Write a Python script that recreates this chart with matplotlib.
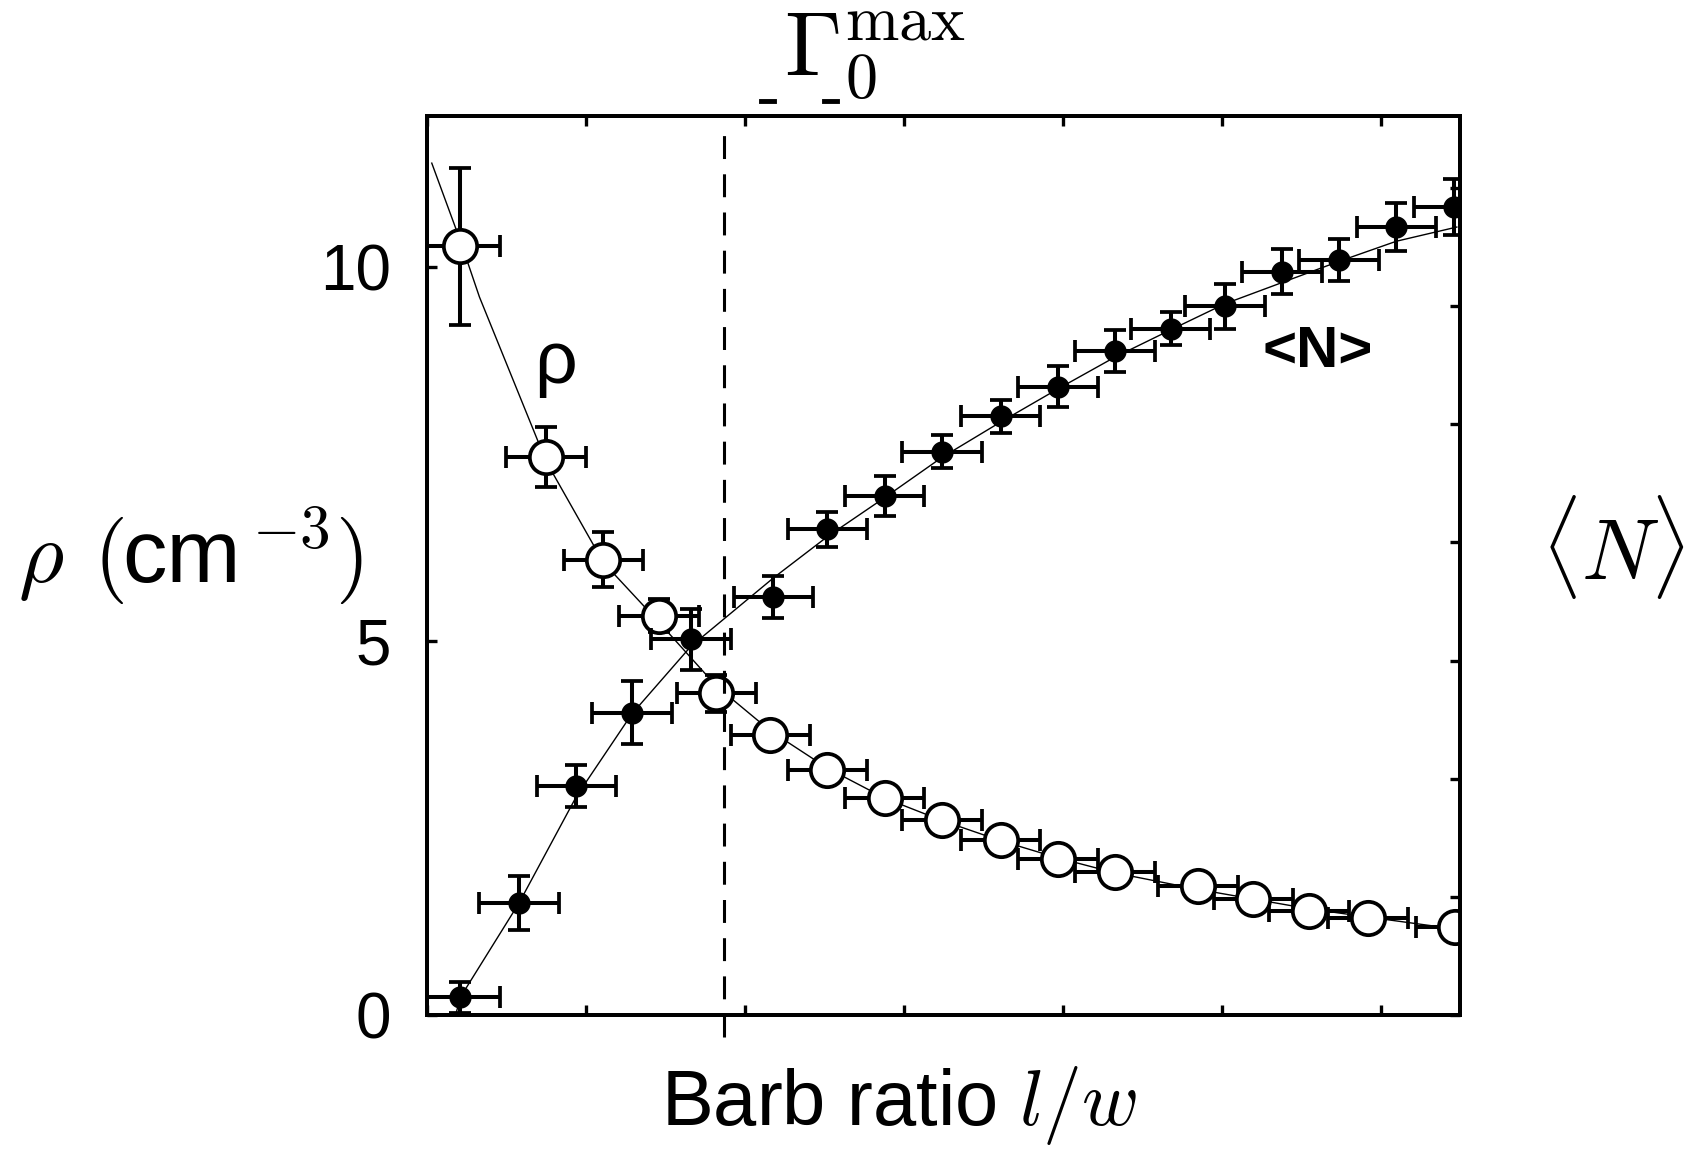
import matplotlib
matplotlib.use("Agg")
import matplotlib.pyplot as plt
from matplotlib.lines import Line2D

plt.rcParams['font.family'] = ['Liberation Sans', 'DejaVu Sans']
plt.rcParams['mathtext.fontset'] = 'cm'

# density rho (open circles, left axis)
rho_x = [0.21, 0.75, 1.11, 1.46, 1.82, 2.16, 2.52, 2.88, 3.24, 3.61, 3.97, 4.33,
         4.85, 5.20, 5.55, 5.92, 6.47]
rho_y = [10.28, 7.46, 6.09, 5.34, 4.30, 3.74, 3.28, 2.90, 2.61, 2.34, 2.09, 1.91,
         1.72, 1.55, 1.39, 1.30, 1.17]
rho_err = [1.05, 0.40, 0.37, 0.22, 0.25, 0.12, 0.10, 0.10, 0.10, 0.10, 0.10, 0.10,
           0.06, 0.06, 0.06, 0.06, 0.06]

# mean number <N> (filled circles, right axis)
n_x = [0.21, 0.58, 0.94, 1.29, 1.66, 2.18, 2.52, 2.88, 3.24, 3.61, 3.97, 4.33,
       4.68, 5.02, 5.38, 5.74, 6.10, 6.46]
n_y = [0.15, 0.95, 1.94, 2.56, 3.18, 3.54, 4.11, 4.39, 4.77, 5.07, 5.32, 5.62,
       5.81, 6.00, 6.29, 6.39, 6.67, 6.84]
n_err = [0.13, 0.23, 0.18, 0.27, 0.26, 0.18, 0.15, 0.17, 0.14, 0.14, 0.17, 0.18,
         0.14, 0.19, 0.19, 0.18, 0.20, 0.24]
x_err = 0.25

# fitted curves
rho_fit_x = [0.03, 0.21, 0.33, 0.67, 0.75, 1.11, 1.46, 1.82, 2.16, 2.52, 2.88, 3.24,
             3.61, 3.97, 4.33, 4.85, 5.20, 5.55, 5.92, 6.47]
rho_fit_y = [11.39, 10.35, 9.60, 7.82, 7.40, 6.05, 5.25, 4.40, 3.80, 3.30, 2.90, 2.60,
             2.33, 2.10, 1.90, 1.68, 1.55, 1.42, 1.31, 1.15]
n_fit_x = [0.18, 0.21, 0.58, 0.94, 1.29, 1.66, 2.18, 2.52, 2.88, 3.24, 3.61, 3.97,
           4.33, 4.68, 5.02, 5.38, 5.74, 6.10, 6.48]
n_fit_y = [0.00, 0.15, 0.95, 1.85, 2.55, 3.12, 3.70, 4.05, 4.38, 4.72, 5.02, 5.30,
           5.57, 5.80, 6.02, 6.20, 6.38, 6.55, 6.67]

gamma_max_x = 1.867

W, H = 1691, 1166
fig = plt.figure(figsize=(W / 100, H / 100), dpi=100)

def fx(px):
    return px / W

def fy(py):
    return 1 - py / H

ax = fig.add_axes([fx(427), fy(1015), fx(1460) - fx(427), fy(116) - fy(1015)])
ax2 = ax.twinx()

ax.set_xlim(0, 6.5)
ax.set_ylim(0, 12.02)
ax2.set_ylim(0, 7.61)

ax.plot(rho_fit_x, rho_fit_y, color='k', lw=1.0, zorder=2)
ax.errorbar(rho_x, rho_y, yerr=rho_err, xerr=x_err, fmt='o', ms=24, mfc='white',
            mec='k', mew=2.7, ecolor='k', elinewidth=2.9, capsize=8, capthick=2.7,
            zorder=3)

ax2.plot(n_fit_x, n_fit_y, color='k', lw=1.0, zorder=2)
ax2.errorbar(n_x, n_y, yerr=n_err, xerr=x_err, fmt='o', ms=15, mfc='k', mec='k',
             ecolor='k', elinewidth=2.9, capsize=8, capthick=2.7, zorder=3)

# dashed marker line, runs a little past the bottom spine
ax.plot([gamma_max_x, gamma_max_x], [-0.0245, 0.9855], transform=ax.get_xaxis_transform(),
        clip_on=False, color='k', lw=2.2, ls=(0, (7.5, 5)), zorder=4)

for a in (ax, ax2):
    for s in a.spines.values():
        s.set_linewidth(2.8)

ax.set_xticks(range(7))
ax.set_xticklabels([])
ax.set_yticks([0, 5, 10])
ax.tick_params(axis='x', which='both', direction='in', length=7, width=2.4, top=True)
ax.tick_params(axis='y', direction='in', length=7, width=2.4, labelsize=46, pad=26,
               right=False)
ax2.set_yticks(range(8))
ax2.tick_params(axis='y', direction='in', length=7, width=2.4, labelright=False)

ax.text(0.124, 0.725, 'ρ', transform=ax.transAxes, fontsize=54, ha='center', va='center')
ax.text(0.8626, 0.7375, '<N>', transform=ax.transAxes, fontsize=42, fontweight='bold',
        ha='center', va='center')

# axis titles
fig.text(fx(18), fy(582), r'$\rho$', fontsize=63, ha='left', va='baseline')
fig.text(fx(93), fy(582), r'$($', fontsize=63, ha='left', va='baseline')
fig.text(fx(122), fy(582), 'cm', fontsize=64, ha='left', va='baseline')
fig.text(fx(252), fy(548), r'${-}3$', fontsize=44, ha='left', va='baseline')
fig.text(fx(335), fy(582), r'$)$', fontsize=63, ha='left', va='baseline')

fig.text(fx(1541), fy(580), r'$\langle N\rangle$', fontsize=62, ha='left', va='baseline')
fig.text(fx(899), fy(1125), r'Barb ratio $l/w$', fontsize=56, ha='center', va='baseline')
fig.text(fx(784), fy(75), r'$\Gamma_0^{\max}$', fontsize=66, ha='left', va='baseline')

for x0, x1 in [(761, 774), (824, 837)]:
    fig.add_artist(Line2D([fx(x0), fx(x1)], [fy(101), fy(101)], color='k', lw=3.5,
                          transform=fig.transFigure))

fig.savefig('out.png', dpi=100)
